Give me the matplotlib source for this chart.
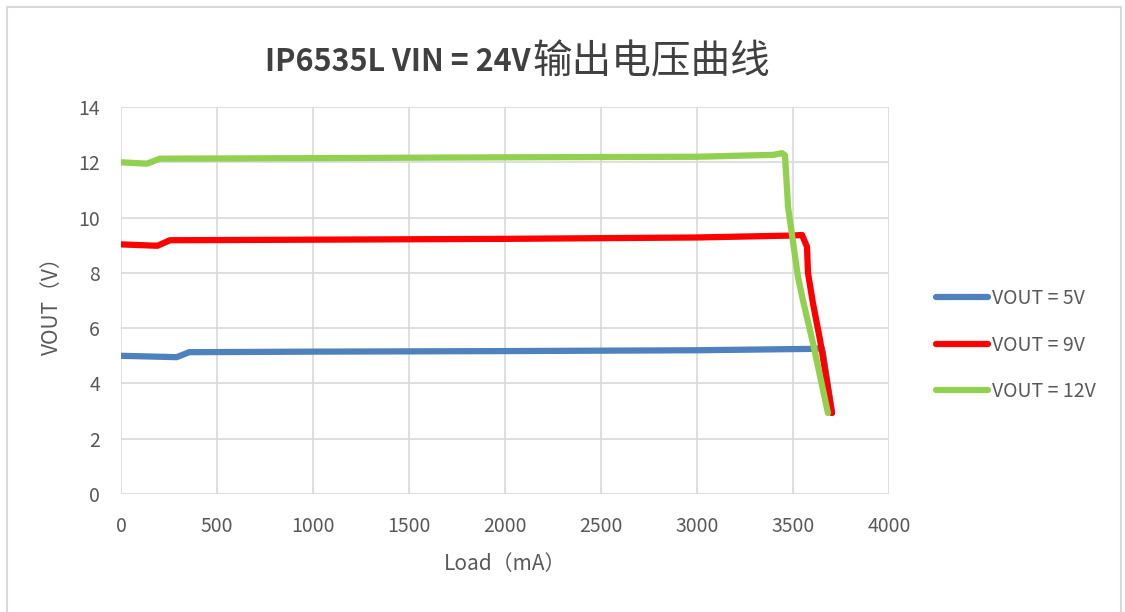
import matplotlib
matplotlib.use("Agg")
import matplotlib.pyplot as plt
from matplotlib.patches import Rectangle

plt.rcParams['font.family'] = ['Noto Sans CJK SC', 'DejaVu Sans']

# data (load in mA, vout in V)
load_5v = [0, 290, 355, 1000, 2000, 3000, 3600, 3651, 3656, 3703]
vout_5v = [5.0, 4.95, 5.13, 5.15, 5.17, 5.2, 5.25, 5.27, 5.1, 2.93]

load_9v = [0, 190, 255, 1000, 2000, 3000, 3500, 3547, 3573, 3578, 3604, 3641, 3703]
vout_9v = [9.03, 8.98, 9.18, 9.2, 9.23, 9.28, 9.35, 9.37, 8.94, 8.0, 6.9, 5.57, 2.93]

load_12v = [0, 135, 203, 1000, 2000, 3000, 3400, 3443, 3458, 3470, 3474, 3526, 3552, 3604, 3682]
vout_12v = [12.0, 11.95, 12.13, 12.15, 12.18, 12.2, 12.27, 12.33, 12.25, 10.9, 10.4, 7.85, 7.0, 5.46, 2.93]

labels = ["VOUT = 5V", "VOUT = 9V", "VOUT = 12V"]
colors = ["#4F81BD", "#FF0000", "#92D050"]

x_ticks = [0, 500, 1000, 1500, 2000, 2500, 3000, 3500, 4000]
y_ticks = [0, 2, 4, 6, 8, 10, 12, 14]

title_latin = "IP6535L VIN = 24V"
title_cjk = "输出电压曲线"

fig = plt.figure(figsize=(11.25, 6.12), dpi=100)
ax = fig.add_axes([121 / 1125, 118 / 612, 768 / 1125, 387 / 612])

series = [(load_5v, vout_5v), (load_9v, vout_9v), (load_12v, vout_12v)]
for (x, y), lab, c in zip(series, labels, colors):
    ax.plot(x, y, color=c, lw=4.5, label=lab, solid_capstyle="round", solid_joinstyle="round")

ax.set_xlim(0, 4000)
ax.set_ylim(0, 14)
ax.set_xticks(x_ticks)
ax.set_yticks(y_ticks)
ax.grid(True, color="#D9D9D9", lw=1.2)
ax.set_axisbelow(True)
for s in ax.spines.values():
    s.set_visible(False)
ax.tick_params(length=0, labelsize=14, labelcolor="#595959")
ax.tick_params(axis="y", pad=15)
ax.tick_params(axis="x", pad=16)

ax.set_xlabel("Load（mA）", fontsize=15, color="#595959", labelpad=11)
ax.set_ylabel("VOUT（V）", fontsize=15, color="#595959", labelpad=11)

# title: bold latin part followed by regular CJK part
t1 = fig.text(265 / 1125, 1 - 62 / 612, title_latin, fontsize=22, fontweight="bold",
              color="#404040", ha="left", va="center")
fig.canvas.draw()
bb = t1.get_window_extent()
fig.text((bb.x1 + 2) / 1125, 1 - 62 / 612, title_cjk, fontsize=28.5,
         color="#404040", ha="left", va="center")

leg = ax.legend(loc="center left", bbox_to_anchor=(1.038, 0.385), frameon=False,
                fontsize=14, handlelength=2.7, labelspacing=1.3, handletextpad=0.2)
for t in leg.get_texts():
    t.set_color("#595959")

# outer chart border
fig.patches.append(Rectangle((7 / 1125, -0.05), 1114 / 1125, 1.05 - 7 / 612,
                             transform=fig.transFigure, fill=False,
                             edgecolor="#D9D9D9", lw=1.5))

fig.savefig("out.png", dpi=100)
